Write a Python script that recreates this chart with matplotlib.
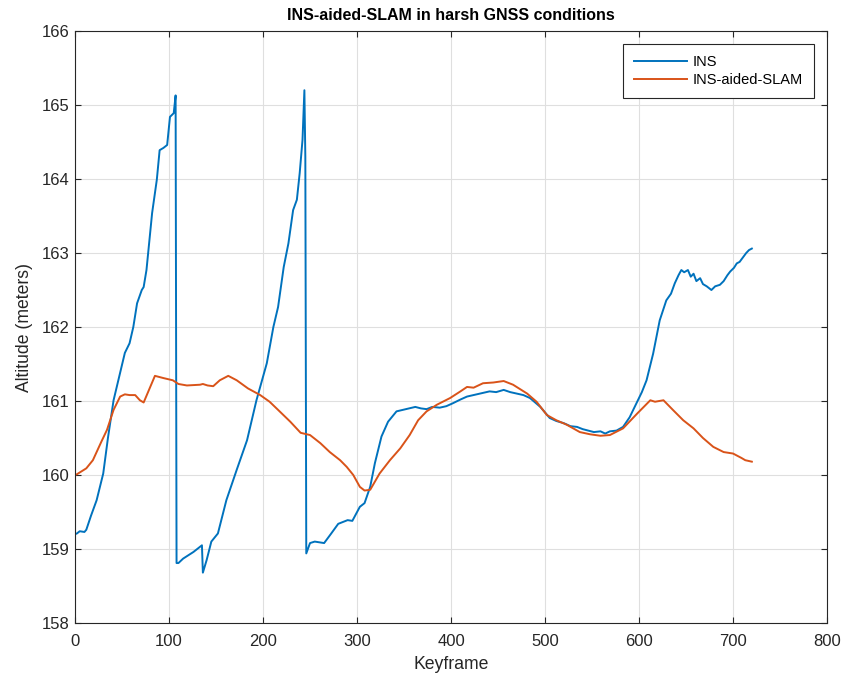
import matplotlib
matplotlib.use('Agg')
import matplotlib.pyplot as plt

# INS altitude along keyframes (two resets back to ~158.8 m)
ins_x = [0, 2, 5, 10, 12, 17, 23, 30, 35, 41, 48, 53, 58, 62, 66, 71, 73, 76, 82, 87,
         90, 94, 98, 101, 105, 107, 108,
         110, 115, 126, 135, 136, 140, 145, 152, 161, 172, 183, 193, 204, 211, 216,
         222, 227, 232, 236, 239, 242, 244, 245,
         246, 250, 255, 265, 272, 280, 290, 295, 303, 308, 314, 319, 326, 333, 342,
         352, 362, 368, 374, 380, 388, 395, 402, 410, 417, 424, 431, 441, 448, 456,
         463, 470, 477, 484, 495, 505, 512, 520, 527, 534, 540, 546, 552, 559, 564,
         569, 576, 583, 590, 598, 603, 608, 615, 622, 629, 634, 638, 642, 645, 648,
         652, 655, 658, 661, 665, 668, 672, 677, 681, 686, 690, 694, 697, 701, 704,
         707, 711, 714, 717, 720]
ins_y = [159.20, 159.21, 159.24, 159.23, 159.26, 159.45, 159.66, 160.02, 160.50, 161.01,
         161.38, 161.65, 161.78, 162.00, 162.32, 162.50, 162.54, 162.77, 163.54, 163.99,
         164.39, 164.42, 164.46, 164.84, 164.89, 165.13, 158.81,
         158.81, 158.87, 158.96, 159.05, 158.68, 158.85, 159.10, 159.21, 159.66, 160.07,
         160.47, 161.01, 161.51, 162.00, 162.27, 162.81, 163.13, 163.58, 163.72, 164.08,
         164.53, 165.20, 164.30,
         158.94, 159.08, 159.10, 159.08, 159.20, 159.34, 159.39, 159.38, 159.57, 159.62,
         159.84, 160.16, 160.52, 160.72, 160.86, 160.89, 160.92, 160.90, 160.89, 160.92,
         160.91, 160.93, 160.97, 161.02, 161.06, 161.08, 161.10, 161.13, 161.12, 161.15,
         161.12, 161.10, 161.08, 161.04, 160.92, 160.77, 160.73, 160.70, 160.66, 160.65,
         160.62, 160.60, 160.58, 160.59, 160.56, 160.59, 160.60, 160.65, 160.78, 160.99,
         161.12, 161.28, 161.64, 162.09, 162.36, 162.45, 162.59, 162.70, 162.77, 162.74,
         162.77, 162.68, 162.72, 162.62, 162.66, 162.58, 162.55, 162.50, 162.55, 162.57,
         162.62, 162.70, 162.75, 162.80, 162.86, 162.88, 162.95, 163.00, 163.04, 163.06]

# INS-aided-SLAM altitude along keyframes
slam_x = [0, 2, 12, 19, 28, 34, 41, 48, 53, 58, 64, 69, 73, 78, 85, 94, 104, 110, 119,
          133, 136, 141, 147, 154, 163, 172, 184, 197, 207, 216, 229, 240, 250, 261,
          271, 282, 289, 296, 303, 308, 314, 324, 335, 346, 356, 365, 374, 385, 399,
          410, 417, 424, 434, 445, 456, 466, 481, 491, 502, 512, 523, 537, 548, 559,
          569, 583, 598, 612, 617, 626, 636, 647, 658, 668, 679, 690, 700, 709, 713, 720]
slam_y = [160.00, 160.01, 160.09, 160.20, 160.45, 160.61, 160.88, 161.06, 161.09, 161.08,
          161.08, 161.01, 160.98, 161.13, 161.34, 161.31, 161.28, 161.23, 161.21,
          161.22, 161.23, 161.21, 161.20, 161.28, 161.34, 161.28, 161.17, 161.08, 160.99,
          160.88, 160.72, 160.57, 160.54, 160.43, 160.31, 160.20, 160.11, 160.00, 159.84,
          159.79, 159.80, 160.02, 160.20, 160.36, 160.54, 160.74, 160.86, 160.95, 161.04,
          161.13, 161.19, 161.18, 161.24, 161.25, 161.27, 161.22, 161.10, 160.99, 160.81,
          160.74, 160.68, 160.58, 160.55, 160.53, 160.54, 160.63, 160.83, 161.01, 160.99,
          161.01, 160.88, 160.74, 160.63, 160.50, 160.38, 160.31, 160.29, 160.23, 160.20,
          160.18]

plt.rcParams['font.family'] = ['Liberation Sans', 'DejaVu Sans']

fig = plt.figure(figsize=(8.44, 6.79), dpi=100)
ax = fig.add_axes([0.0889, 0.0825, 0.891, 0.8718])

ax.plot(ins_x, ins_y, color='#0072BD', lw=1.4, label='INS')
ax.plot(slam_x, slam_y, color='#D95319', lw=1.4, label='INS-aided-SLAM')

ax.set_xlim(0, 800)
ax.set_ylim(158, 166)
ax.set_xticks(range(0, 801, 100))
ax.set_yticks(range(158, 167))
ax.grid(True, color='#dfdfdf', lw=0.8)
ax.set_axisbelow(True)

for s in ax.spines.values():
    s.set_color('#262626')
    s.set_linewidth(0.8)
ax.tick_params(direction='in', top=True, right=True, length=4, width=0.8,
               colors='#262626', labelsize=12)
ax.tick_params(axis='x', pad=8)
ax.tick_params(axis='y', pad=4)

ax.set_xlabel('Keyframe', fontsize=12.7, color='#262626', labelpad=5)
ax.set_ylabel('Altitude (meters)', fontsize=12.7, color='#262626', labelpad=6)
ax.set_title('INS-aided-SLAM in harsh GNSS conditions', fontsize=11.5,
             fontweight='bold', pad=8)

leg = ax.legend(loc='upper right', fontsize=10.5, fancybox=False, framealpha=1,
                edgecolor='#262626', borderaxespad=0.9, handlelength=3.6,
                handletextpad=0.4, borderpad=0.75, labelspacing=0.3)
leg.get_frame().set_linewidth(0.8)

fig.savefig('out.png', dpi=100)
